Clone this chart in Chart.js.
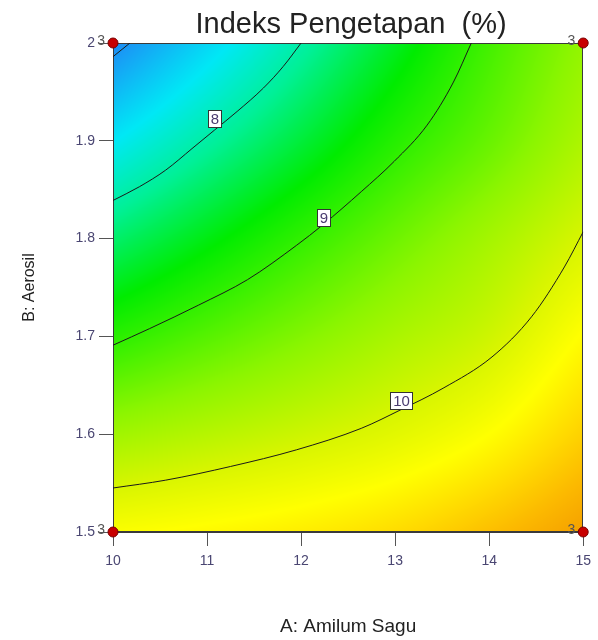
<!DOCTYPE html>
<html>
<head>
<meta charset="utf-8">
<title>Indeks Pengetapan (%)</title>
<script src="https://cdn.jsdelivr.net/npm/chart.js@4.4.1/dist/chart.umd.min.js"></script>
<style>
  html, body { margin: 0; padding: 0; background: #fff; }
</style>
</head>
<body>
<canvas id="contour" width="598" height="640"></canvas>
<script>
const title = "Indeks Pengetapan  (%)";
const xTitle = "A: Amilum Sagu";
const yTitle = "B: Aerosil";

// response surface (rows = B, columns = A)
const gridA = [10, 11, 12, 13, 14, 15];
const gridB = [1.5, 1.6, 1.7, 1.8, 1.9, 2.0];
const gridValues = [
  [10.31, 10.40, 10.50, 10.65, 10.90, 11.20],
  [9.63, 9.78, 9.93, 10.10, 10.35, 10.75],
  [8.94, 9.20, 9.45, 9.70, 9.94, 10.37],
  [8.27, 8.63, 8.99, 9.33, 9.66, 10.01],
  [7.59, 8.03, 8.47, 8.92, 9.30, 9.72],
  [6.90, 7.46, 8.01, 8.56, 9.09, 9.55],
];

// contour lines
const line7A = [10, 10.18];
const line7B = [1.986, 2.0];
const line8A = [10, 10.28, 10.56, 10.84, 11.08, 11.32, 11.6, 11.81, 12.0];
const line8B = [1.839, 1.853, 1.870, 1.892, 1.911, 1.930, 1.954, 1.976, 2.0];
const line9A = [10, 10.39, 10.91, 11.43, 11.95, 12.23, 12.64, 12.99, 13.34, 13.62, 13.81];
const line9B = [1.691, 1.708, 1.732, 1.758, 1.793, 1.814, 1.848, 1.879, 1.916, 1.960, 2.0];
const line10A = [10, 10.56, 11.25, 11.95, 12.64, 13.06, 13.51, 14.03, 14.45, 14.8, 15];
const line10B = [1.545, 1.553, 1.567, 1.584, 1.606, 1.625, 1.647, 1.679, 1.720, 1.771, 1.807];

const labelText = ["8", "9", "10"];
const labelA = [11.083, 12.243, 13.068];
const labelB = [1.922, 1.821, 1.634];

// design points and their replicate counts
const designA = [10, 15, 10, 15];
const designB = [1.5, 1.5, 2.0, 2.0];
const designReps = ["3", "3", "3", "3"];

const colourStops = [
  [6.9, [30, 138, 245]],
  [7.6, [0, 232, 245]],
  [8.1, [0, 240, 150]],
  [8.7, [0, 236, 0]],
  [9.0, [50, 240, 0]],
  [9.5, [140, 245, 0]],
  [10.0, [215, 245, 0]],
  [10.35, [255, 255, 0]],
  [10.65, [255, 220, 0]],
  [10.95, [252, 185, 0]],
  [11.2, [245, 160, 0]],
];

function points(xs, ys) {
  return xs.map((x, i) => ({ x, y: ys[i] }));
}

function cell(list, v) {
  let i = 0;
  while (i < list.length - 2 && v > list[i + 1]) i++;
  const t = (v - list[i]) / (list[i + 1] - list[i]);
  return [i, Math.min(1, Math.max(0, t))];
}

function at(arr, i) {
  const n = arr.length;
  if (i < 0) return 2 * arr[0] - arr[1];
  if (i >= n) return 2 * arr[n - 1] - arr[n - 2];
  return arr[i];
}

function spline(arr, i, t) {
  const p0 = at(arr, i - 1), p1 = at(arr, i), p2 = at(arr, i + 1), p3 = at(arr, i + 2);
  return 0.5 * (2 * p1 + (p2 - p0) * t + (2 * p0 - 5 * p1 + 4 * p2 - p3) * t * t +
    (3 * p1 - p0 - 3 * p2 + p3) * t * t * t);
}

function valueAt(a, b) {
  const [i, u] = cell(gridA, a);
  const [j, w] = cell(gridB, b);
  const column = gridValues.map(row => spline(row, i, u));
  return spline(column, j, w);
}

function colourFor(v) {
  if (v <= colourStops[0][0]) return colourStops[0][1];
  for (let k = 1; k < colourStops.length; k++) {
    if (v <= colourStops[k][0]) {
      const [v0, c0] = colourStops[k - 1];
      const [v1, c1] = colourStops[k];
      const t = (v - v0) / (v1 - v0);
      return c0.map((c, n) => c + (c1[n] - c) * t);
    }
  }
  return colourStops[colourStops.length - 1][1];
}

const surface = {
  id: "surface",
  beforeDatasetsDraw(chart) {
    const { ctx, chartArea, scales } = chart;
    const left = Math.round(chartArea.left), top = Math.round(chartArea.top);
    const w = Math.round(chartArea.right) - left, h = Math.round(chartArea.bottom) - top;
    const img = ctx.createImageData(w, h);
    for (let j = 0; j < h; j++) {
      const b = scales.y.getValueForPixel(top + j + 0.5);
      for (let i = 0; i < w; i++) {
        const c = colourFor(valueAt(scales.x.getValueForPixel(left + i + 0.5), b));
        const p = (j * w + i) * 4;
        img.data[p] = c[0];
        img.data[p + 1] = c[1];
        img.data[p + 2] = c[2];
        img.data[p + 3] = 255;
      }
    }
    ctx.putImageData(img, left, top);
    ctx.save();
    ctx.strokeStyle = "#3a3a3a";
    ctx.lineWidth = 1;
    ctx.strokeRect(left + 0.5, top + 0.5, w - 1, h - 1);
    ctx.restore();
  },
  afterDatasetsDraw(chart) {
    const { ctx, chartArea, scales } = chart;
    ctx.save();
    ctx.font = "15px 'Liberation Sans', Arial, sans-serif";
    ctx.textAlign = "center";
    ctx.textBaseline = "middle";
    labelText.forEach((t, i) => {
      const px = scales.x.getPixelForValue(labelA[i]);
      const py = scales.y.getPixelForValue(labelB[i]);
      const bw = Math.round(ctx.measureText(t).width + 6), bh = 18;
      const bx = Math.round(px - bw / 2), by = Math.round(py - bh / 2);
      ctx.fillStyle = "#fff";
      ctx.fillRect(bx, by, bw, bh);
      ctx.strokeStyle = "#333";
      ctx.strokeRect(bx + 0.5, by + 0.5, bw - 1, bh - 1);
      ctx.fillStyle = "#4a3c70";
      ctx.fillText(t, px, py + 1);
    });

    ctx.font = "14px 'Liberation Sans', Arial, sans-serif";
    ctx.textAlign = "right";
    ctx.fillStyle = "#555";
    designReps.forEach((t, i) => {
      const px = scales.x.getPixelForValue(designA[i]);
      const py = scales.y.getPixelForValue(designB[i]);
      ctx.fillText(t, px - 8, py - 2);
    });

    ctx.font = "29px 'Liberation Sans', Arial, sans-serif";
    ctx.textAlign = "center";
    ctx.textBaseline = "alphabetic";
    ctx.fillStyle = "#222";
    ctx.fillText(title, (chartArea.left + chartArea.right) / 2 + 3, 33);
    ctx.restore();
  },
};

const contourStyle = {
  type: "line",
  showLine: true,
  borderColor: "#1a1a1a",
  borderWidth: 1,
  pointRadius: 0,
  fill: false,
  cubicInterpolationMode: "monotone",
};

const tickColour = "#4a4672";

new Chart(document.getElementById("contour"), {
  type: "scatter",
  data: {
    datasets: [
      {
        data: points(designA, designB),
        pointRadius: 5,
        backgroundColor: "#c80000",
        borderColor: "#7a0000",
        borderWidth: 1,
        clip: false,
      },
      { ...contourStyle, data: points(line7A, line7B) },
      { ...contourStyle, data: points(line8A, line8B) },
      { ...contourStyle, data: points(line9A, line9B) },
      { ...contourStyle, data: points(line10A, line10B) },
    ],
  },
  options: {
    responsive: false,
    animation: false,
    events: [],
    layout: { padding: { top: 43, right: 5, left: 0, bottom: 0 } },
    plugins: { legend: { display: false }, tooltip: { enabled: false } },
    scales: {
      x: {
        type: "linear",
        min: 10,
        max: 15,
        ticks: { stepSize: 1, color: tickColour, font: { size: 14 }, padding: 7 },
        grid: { drawOnChartArea: false, tickLength: 14, color: "#555" },
        border: { color: "#3a3a3a" },
        title: { display: true, text: xTitle, color: "#222", font: { size: 19 }, padding: { top: 0, bottom: 2 } },
        afterFit(scale) { scale.height = 108; },
      },
      y: {
        type: "linear",
        min: 1.5,
        max: 2.0,
        ticks: {
          stepSize: 0.1,
          color: tickColour,
          font: { size: 14 },
          padding: 4,
          callback: value => String(+value.toFixed(1)),
        },
        grid: { drawOnChartArea: false, tickLength: 14, color: "#555" },
        border: { color: "#3a3a3a" },
        title: { display: true, text: yTitle, color: "#222", font: { size: 16 }, padding: { top: 20, bottom: 0 } },
        afterFit(scale) { scale.width = 113; },
      },
    },
  },
  plugins: [surface],
});
</script>
</body>
</html>
